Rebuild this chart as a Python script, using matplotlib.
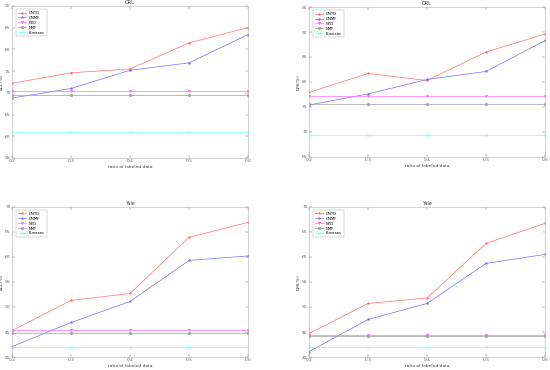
import matplotlib.pyplot as plt

ratios = [0.2, 0.3, 0.4, 0.5, 0.6]
methods = ["ONTD", "ONMF", "NTD", "NMF", "K-means"]

# ORL
orl_acc = {
    "ONTD": [72.2, 74.6, 75.5, 81.5, 85.0],
    "ONMF": [68.8, 71.0, 75.2, 76.9, 83.4],
    "NTD": [70.4] * 5,
    "NMF": [69.6] * 5,
    "K-means": [60.9] * 5,
}
orl_nmi = {
    "ONTD": [77.9, 81.7, 80.3, 86.0, 89.6],
    "ONMF": [75.4, 77.6, 80.5, 82.1, 88.3],
    "NTD": [77.1] * 5,
    "NMF": [75.5] * 5,
    "K-means": [69.4] * 5,
}
# Yale
yale_acc = {
    "ONTD": [45.3, 51.3, 52.7, 63.9, 66.9],
    "ONMF": [42.1, 46.9, 51.1, 59.3, 60.2],
    "NTD": [45.5] * 5,
    "NMF": [44.9] * 5,
    "K-means": [42.0] * 5,
}
yale_nmi = {
    "ONTD": [44.7, 50.7, 51.8, 62.7, 66.7],
    "ONMF": [41.1, 47.5, 50.7, 58.7, 60.5],
    "NTD": [44.5] * 5,
    "NMF": [44.3] * 5,
    "K-means": [42.0] * 5,
}

colors = {"ONTD": "#ff7070", "ONMF": "#7070ff", "NTD": "#ff70ff",
          "NMF": "#a0a0a0", "K-means": "#70ffff"}
markers = {"ONTD": "*", "ONMF": "*", "NTD": "v", "NMF": "o", "K-means": "x"}

panels = [
    ([0.022, 0.573, 0.429, 0.411], orl_acc, "ORL", "ACC(%)", (55, 90)),
    ([0.562, 0.576, 0.429, 0.405], orl_nmi, "ORL", "NMI(%)", (65, 95)),
    ([0.022, 0.035, 0.429, 0.406], yale_acc, "Yale", "ACC(%)", (40, 70)),
    ([0.562, 0.035, 0.429, 0.406], yale_nmi, "Yale", "NMI(%)", (40, 70)),
]

fs = 3.2
fig = plt.figure(figsize=(5.5, 3.7), dpi=100)
for rect, data, title, ylabel, ylim in panels:
    ax = fig.add_axes(rect)
    for m in methods:
        ax.plot(ratios, data[m], color=colors[m], marker=markers[m],
                markersize=1.8, linewidth=0.5, markeredgewidth=0.4, label=m)
    ax.set_xlim(0.2, 0.6)
    ax.set_ylim(*ylim)
    ax.set_xticks(ratios)
    ax.set_yticks(range(ylim[0], ylim[1] + 1, 5))
    ax.tick_params(direction="in", labelsize=fs, length=2, width=0.3,
                   colors="#606060", pad=1, top=True, right=True)
    for s in ax.spines.values():
        s.set_color("#b0b0b0")
        s.set_linewidth(0.4)
    ax.set_title(title, fontsize=fs + 0.3, pad=1.5, color="#404040")
    ax.set_xlabel("ratio of labeled data", fontsize=fs, labelpad=1, color="#404040")
    ax.set_ylabel(ylabel, fontsize=fs, labelpad=1, color="#404040")
    leg = ax.legend(loc="upper left", fontsize=2.7, frameon=True,
                    fancybox=False, borderpad=0.4, handlelength=2.2,
                    labelspacing=0.25, bbox_to_anchor=(0.01, 0.99))
    leg.get_frame().set_linewidth(0.3)
    leg.get_frame().set_edgecolor("#909090")

fig.savefig("out.png", dpi=100)
